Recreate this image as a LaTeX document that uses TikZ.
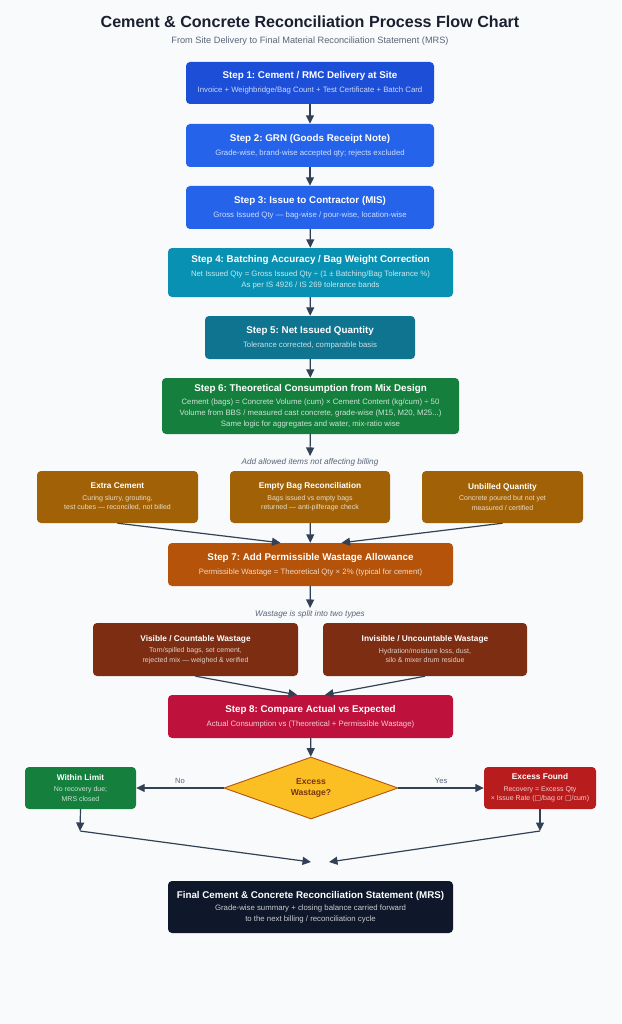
\documentclass[tikz,border=0pt]{standalone}
\usepackage{fontspec}
\setmainfont{Liberation Sans}
\newfontfamily\symfont{DejaVu Sans}
\usepackage{tikz}
\usetikzlibrary{arrows.meta, shapes.geometric}
\frenchspacing

\definecolor{bgc}{HTML}{F8FAFC}
\definecolor{titlec}{HTML}{1A2030}
\definecolor{greyc}{HTML}{5B6678}
\definecolor{arrowc}{HTML}{334155}
\definecolor{blueA}{HTML}{1D4ED8}
\definecolor{blueB}{HTML}{2563EB}
\definecolor{cyanA}{HTML}{0891B2}
\definecolor{cyanB}{HTML}{0E7490}
\definecolor{greenA}{HTML}{15803D}
\definecolor{amberA}{HTML}{A16207}
\definecolor{orangeA}{HTML}{B45309}
\definecolor{brownA}{HTML}{7C2D12}
\definecolor{roseA}{HTML}{BE123C}
\definecolor{redA}{HTML}{B91C1C}
\definecolor{goldA}{HTML}{FBBF24}
\definecolor{goldT}{HTML}{78350F}
\definecolor{navyA}{HTML}{0F172A}

\newcommand{\ttl}[1]{{\color{white}\fontsize{9.8}{11}\selectfont\bfseries #1}}
\newcommand{\sml}[1]{{\color{white}\fontsize{8.3}{10}\selectfont\bfseries #1}}

\begin{document}
\begin{tikzpicture}
          [
            x=1pt, y=-1pt,
            box/.style={rounded corners=4pt, fill=#1, text=white!78!#1, align=center,
              inner sep=0pt, font=\fontsize{7.8}{11.3}\selectfont},
            small/.style={font=\fontsize{7}{9.5}\selectfont},
            flow/.style={draw=arrowc, line width=1.2pt, -{Triangle[length=8.5pt,width=8pt]}},
            note/.style={text=greyc, font=\fontsize{8.2}{10}\selectfont\itshape, inner sep=2pt},
            edgelabel/.style={text=greyc, font=\fontsize{7.6}{9}\selectfont, inner sep=2pt}
          ]
          \fill[bgc] (0,0) rectangle (621,1024);
          \useasboundingbox (0,0) rectangle (621,1024);
          % heading
          \node[text=titlec, font=\fontsize{16.1}{19}\selectfont\bfseries] (title) at (310,22)
            {Cement \& Concrete Reconciliation Process Flow Chart};
          \node[text=greyc, font=\fontsize{9.2}{11}\selectfont] (subtitle) at (310,41)
            {From Site Delivery to Final Material Reconciliation Statement (MRS)};
          % main steps
          \node[box=blueA, minimum width=248pt, minimum height=42pt] (s1) at (310,83)
            {\ttl{Step 1: Cement / RMC Delivery at Site}\\[2.5pt]
             Invoice + Weighbridge/Bag Count + Test Certificate + Batch Card};
          \node[box=blueB, minimum width=248pt, minimum height=43pt] (s2) at (310,145.5)
            {\ttl{Step 2: GRN (Goods Receipt Note)}\\[2.5pt]
             Grade-wise, brand-wise accepted qty; rejects excluded};
          \node[box=blueB, minimum width=248pt, minimum height=43pt] (s3) at (310,207.5)
            {\ttl{Step 3: Issue to Contractor (MIS)}\\[2.5pt]
             Gross Issued Qty — bag-wise / pour-wise, location-wise};
          \node[box=cyanA, minimum width=285pt, minimum height=49pt] (s4) at (310.5,272.5)
            {\ttl{Step 4: Batching Accuracy / Bag Weight Correction}\\[2pt]
             Net Issued Qty = Gross Issued Qty ÷ (1 ± Batching/Bag Tolerance \%)\\
             As per IS 4926 / IS 269 tolerance bands};
          \node[box=cyanB, minimum width=210pt, minimum height=43pt] (s5) at (310,337.5)
            {\ttl{Step 5: Net Issued Quantity}\\[2.5pt]
             Tolerance corrected, comparable basis};
          \node[box=greenA, minimum width=297pt, minimum height=56pt, font=\fontsize{7.8}{10.8}\selectfont] (s6) at (310.5,406)
            {\ttl{Step 6: Theoretical Consumption from Mix Design}\\[2.5pt]
             Cement (bags) = Concrete Volume (cum) × Cement Content (kg/cum) ÷ 50\\
             Volume from BBS / measured cast concrete, grade-wise (M15, M20, M25...)\\
             Same logic for aggregates and water, mix-ratio wise};
          \node[note] (n1) at (310,462) {Add allowed items not affecting billing};
          % allowed items
          \node[box=amberA, small, minimum width=161pt, minimum height=52pt] (e1) at (117.5,497)
            {\sml{Extra Cement}\\[2pt]
             Curing slurry, grouting,\\
             test cubes — reconciled, not billed};
          \node[box=amberA, small, minimum width=160pt, minimum height=52pt] (e2) at (310,497)
            {\sml{Empty Bag Reconciliation}\\[2pt]
             Bags issued vs empty bags\\
             returned — anti-pilferage check};
          \node[box=amberA, small, minimum width=161pt, minimum height=52pt] (e3) at (502.5,497)
            {\sml{Unbilled Quantity}\\[2pt]
             Concrete poured but not yet\\
             measured / certified};
          \node[box=orangeA, minimum width=285pt, minimum height=43pt] (s7) at (310.5,564.5)
            {\ttl{Step 7: Add Permissible Wastage Allowance}\\[2.5pt]
             Permissible Wastage = Theoretical Qty × 2\% (typical for cement)};
          \node[note] (n2) at (310,614) {Wastage is split into two types};
          % wastage types
          \node[box=brownA, small, minimum width=205pt, minimum height=53pt] (w1) at (195.5,649.5)
            {\sml{Visible / Countable Wastage}\\[2pt]
             Torn/spilled bags, set cement,\\
             rejected mix — weighed \& verified};
          \node[box=brownA, small, minimum width=204pt, minimum height=53pt] (w2) at (425,649.5)
            {\sml{Invisible / Uncountable Wastage}\\[2pt]
             Hydration/moisture loss, dust,\\
             silo \& mixer drum residue};
          \node[box=roseA, minimum width=285pt, minimum height=43pt] (s8) at (310.5,716.5)
            {\ttl{Step 8: Compare Actual vs Expected}\\[2.5pt]
             Actual Consumption vs (Theoretical + Permissible Wastage)};
          % decision
          \node[diamond, fill=goldA, draw=orangeA, line width=0.9pt, inner sep=0pt,
            minimum width=174pt, minimum height=62pt, align=center, text=goldT,
            font=\fontsize{8.6}{11.5}\selectfont\bfseries] (dec) at (311,788)
            {Excess\\Wastage?};
          \node[box=greenA, small, minimum width=111pt, minimum height=42pt] (ok) at (80.5,788)
            {\sml{Within Limit}\\[2pt]
             No recovery due;\\
             MRS closed};
          \node[box=redA, small, minimum width=112pt, minimum height=42pt] (ex) at (540,788)
            {\sml{Excess Found}\\[2pt]
             Recovery = Excess Qty\\
             × Issue Rate ({\symfont □}/bag or {\symfont □}/cum)};
          % final statement
          \node[box=navyA, minimum width=285pt, minimum height=52pt, font=\fontsize{7.8}{10.5}\selectfont] (mrs) at (310.5,907)
            {\ttl{Final Cement \& Concrete Reconciliation Statement (MRS)}\\[2pt]
             Grade-wise summary + closing balance carried forward\\
             to the next billing / reconciliation cycle};
          \coordinate (okc) at (80,831);
          \coordinate (exc) at (540,831);
          \coordinate (mL) at (311,862);
          \coordinate (mR) at (329,862);
          % connectors
          \draw[flow] (s1) -- (s2);
          \draw[flow] (s2) -- (s3);
          \draw[flow] (s3) -- (s4);
          \draw[flow] (s4) -- (s5);
          \draw[flow] (s5) -- (s6);
          \draw[flow] (s6) -- (n1);
          \draw[flow] (e1.south) -- ([xshift=-30pt]s7.north);
          \draw[flow] (e2) -- (s7);
          \draw[flow] (e3.south) -- ([xshift=31pt]s7.north);
          \draw[flow] (s7) -- (n2);
          \draw[flow] (w1.south) -- ([xshift=-13.5pt]s8.north);
          \draw[flow] (w2.south) -- ([xshift=14.5pt]s8.north);
          \draw[flow] (s8) -- (dec);
          \draw[flow] (dec.west) -- node[edgelabel, above=2pt] {No} (ok.east);
          \draw[flow] (dec.east) -- node[edgelabel, above=2pt] {Yes} (ex.west);
          \draw[flow] (ok.south) -- (okc);
          \draw[flow] (ex.south) -- (exc);
          \draw[flow] (okc) -- (mL);
          \draw[flow] (exc) -- (mR);
        \end{tikzpicture}
\end{document}
